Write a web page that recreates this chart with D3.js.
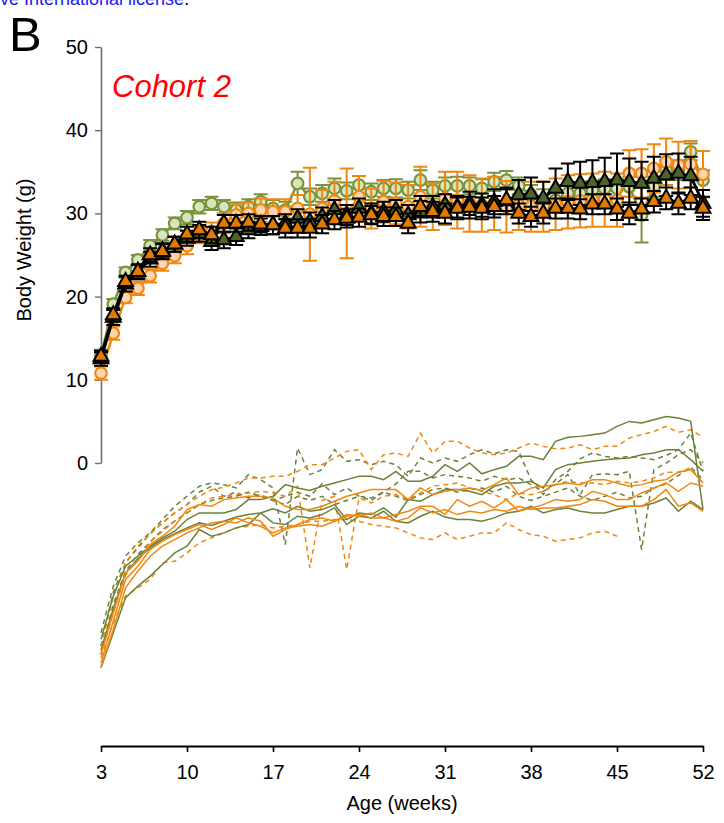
<!DOCTYPE html>
<html>
<head>
<meta charset="utf-8">
<script src="https://cdn.jsdelivr.net/npm/d3@7"></script>
<style>
body{margin:0;background:#fff}
text{font-family:"Liberation Sans",Arial,sans-serif}
</style>
</head>
<body>
<div class="bigvis"></div>
<script>
var weeks = [3,4,5,6,7,8,9,10,11,12,13,14,15,16,17,18,19,20,21,22,23,24,25,26,27,
  28,29,30,31,32,33,34,35,36,37,38,39,40,41,42,43,44,45,46,47,48,49,50,51,52]
var xTicks = [3,10,17,24,31,38,45,52]
var yTicks = [0,10,20,30,40,50]

// group means +- sem (g)
var greenCircleMean = [12.9,19.1,22.9,24.4,26.1,27.4,28.8,29.5,30.8,31.2,
  30.8,30.4,30.8,31.4,30.6,30.4,33.6,32.0,32.4,33.0,
  32.7,33.4,32.6,33.0,33.0,32.8,34.0,32.8,33.3,33.3,
  33.3,33.0,33.8,34.0,33.3,32.2,31.4,31.6,32.4,32.4,
  32.8,33.0,33.0,33.2,29.8,33.2,35.2,35.2,37.4,34.0]
var greenCircleSem = [0.7,0.6,0.6,0.6,0.7,0.7,0.7,0.8,0.8,0.8,
  0.8,0.9,0.9,0.9,1.0,1.0,1.4,1.0,1.0,1.2,
  1.0,1.1,1.0,1.0,1.1,1.0,1.2,1.0,1.0,1.1,
  1.0,1.1,1.1,1.1,1.0,1.2,1.5,1.2,1.2,1.2,
  1.1,1.1,1.1,1.2,3.3,1.2,1.2,1.2,1.0,1.2]

var orangeCircleMean = [10.8,15.6,19.9,21.0,22.5,24.0,24.9,26.1,27.4,27.8,
  28.8,29.8,30.0,30.4,30.2,30.2,30.6,29.9,30.6,31.5,
  30.0,32.0,30.6,31.4,31.2,30.8,32.0,30.8,31.8,31.6,
  31.2,31.0,31.2,30.8,31.0,30.8,30.8,31.1,31.4,31.5,
  31.6,31.7,31.6,34.8,34.8,35.4,36.2,35.8,35.9,34.7]
var orangeCircleSem = [0.8,0.8,0.7,0.8,0.8,0.9,0.9,1.0,1.0,1.1,
  1.2,1.3,1.3,1.4,1.5,1.5,1.6,5.6,2.2,2.3,
  5.4,2.5,2.4,2.5,2.5,2.6,3.6,2.8,3.2,3.4,
  3.4,3.2,3.2,3.1,3.0,3.0,3.0,3.1,3.2,3.2,
  3.2,3.3,3.2,2.8,2.9,2.9,2.8,2.8,2.8,2.8]

var greenTriMean = [12.5,17.5,21.5,23.0,24.5,25.5,26.3,27.0,27.6,26.6,
  26.8,27.2,28.0,28.4,28.6,28.8,29.4,29.0,29.6,30.4,
  29.8,30.6,30.0,30.2,30.4,29.8,30.2,30.8,31.0,30.8,
  31.2,31.0,31.4,31.5,32.2,32.3,31.8,33.0,33.8,33.6,
  33.7,33.8,34.0,33.8,33.6,34.2,34.6,34.8,34.5,31.2]
var greenTriSem = [0.8,0.9,0.9,0.9,0.9,0.9,0.9,0.9,1.0,1.0,
  1.0,1.0,1.0,1.0,1.1,1.1,1.1,1.1,1.1,1.2,
  1.2,1.2,1.2,1.2,1.2,1.2,1.3,1.3,1.3,1.3,
  1.4,1.4,1.5,1.6,1.8,2.0,2.0,2.4,2.2,2.6,
  2.7,2.9,3.2,2.8,2.6,2.6,2.5,2.4,2.3,1.6]

var orangeTriMean = [12.8,17.8,21.8,23.0,25.0,25.4,26.3,27.5,28.0,27.4,
  28.8,28.8,28.9,28.7,28.6,28.2,28.2,28.2,28.7,29.2,
  29.4,29.5,29.8,29.6,29.6,28.8,30.8,30.2,30.0,30.6,
  30.7,30.6,30.8,31.6,30.0,29.6,30.0,30.6,30.6,30.5,
  31.1,31.1,30.5,30.0,30.5,31.4,31.8,31.2,31.8,30.6]
var orangeTriSem = [0.7,0.8,0.7,0.8,0.8,0.9,0.9,0.9,1.0,1.0,
  1.0,1.0,1.0,1.0,1.1,1.1,1.1,1.1,1.1,1.1,
  1.1,1.1,1.1,1.1,1.1,1.2,1.3,1.2,1.2,1.3,
  1.3,1.3,1.3,1.3,1.2,1.2,1.2,1.2,1.2,1.2,
  1.2,1.2,1.3,1.3,1.3,1.3,1.3,1.3,1.3,1.4]

// individual mice (g), drawn shifted down by traceOffset
var traceOffset = 35
var greenDashed = [
  [14.6,20.2,23.8,25.4,26.6,28.2,29.8,31.0,32.2,32.6,
   32.4,32.0,33.6,33.0,32.0,25.2,36.8,33.6,34.2,36.6,
   35.2,35.4,34.8,35.2,34.8,33.4,35.6,35.0,35.6,35.2,
   36.0,36.6,36.1,36.6,36.4,33.0,31.2,33.0,34.0,35.5,
   36.2,35.8,35.6,35.8,35.6,35.4,35.9,36.6,38.6,34.0],
  [13.0,19.5,23.0,24.8,26.5,27.8,29.0,30.0,31.5,32.2,
   31.0,31.5,30.8,31.2,30.5,31.0,31.5,31.0,32.5,31.2,
   32.0,31.0,30.5,31.5,32.5,34.0,34.0,33.2,33.6,33.4,
   33.2,32.8,33.4,33.0,33.2,32.4,31.6,32.5,33.6,31.2,
   33.6,33.7,33.6,34.0,24.6,34.2,35.0,36.0,36.6,35.0],
  [12.0,18.0,22.0,24.0,25.5,27.0,28.0,29.0,30.0,30.5,
   30.8,31.0,31.5,31.0,30.5,30.0,31.0,30.5,31.0,30.0,
   30.5,31.0,30.8,31.5,31.0,30.5,31.2,31.8,32.0,31.5,
   31.8,32.0,31.5,32.2,31.0,30.5,31.0,31.5,32.0,31.0,
   30.5,31.0,31.5,30.8,31.0,32.0,32.5,33.5,34.5,33.0]
]
var greenSolid = [
  [13.8,19.0,22.6,23.8,25.0,26.0,26.8,28.2,29.0,29.0,
   29.0,29.4,30.6,30.6,31.0,32.4,32.0,31.7,32.2,32.6,
   33.0,33.4,33.4,33.0,34.0,32.8,32.8,33.4,34.8,34.0,
   35.0,33.7,34.2,34.6,35.8,35.8,35.4,37.6,38.1,38.2,
   38.4,38.6,39.4,40.0,39.8,40.2,40.6,40.4,40.0,29.4],
  [12.5,17.5,21.8,23.5,24.8,25.8,26.5,27.2,27.8,27.5,
   28.0,28.5,28.8,29.0,29.5,29.0,29.8,29.2,29.4,30.0,
   28.2,29.0,28.8,29.6,28.5,30.6,30.4,31.2,31.8,31.8,
   31.6,31.2,32.2,32.6,32.6,32.8,32.0,34.2,34.8,35.0,
   35.2,35.4,35.5,35.6,36.0,36.2,36.6,36.6,35.4,34.0],
  [10.4,14.6,18.8,20.2,21.4,22.8,24.2,25.0,27.0,26.2,
   26.6,27.2,27.6,29.0,27.8,27.6,28.6,28.4,28.8,29.6,
   27.6,28.6,28.4,29.2,28.0,27.8,28.6,29.2,28.5,28.2,
   28.2,28.0,28.4,29.0,29.2,29.8,29.0,29.4,29.6,29.2,
   29.0,29.0,29.4,29.8,29.8,30.2,30.8,29.2,30.4,29.4]
]
var orangeDashed = [
  [13.0,19.0,23.0,25.0,26.5,27.8,29.0,30.0,31.0,31.8,
   32.1,32.6,33.2,33.2,33.4,33.4,34.0,34.8,34.8,35.6,
   36.4,36.6,34.2,36.0,36.2,35.8,38.6,36.2,37.6,37.6,
   36.8,36.2,36.0,36.2,36.8,37.4,37.0,36.7,36.8,37.2,
   36.6,37.0,37.0,38.0,38.4,38.8,39.4,38.7,39.0,38.1],
  [12.0,17.0,21.5,23.5,25.5,26.8,28.0,29.0,30.0,30.8,
   31.0,31.2,31.4,31.6,31.4,31.0,32.2,22.4,30.5,31.0,
   22.2,30.8,30.2,31.0,31.2,30.6,31.4,32.2,32.4,32.6,
   32.0,31.6,31.2,30.6,31.4,31.2,31.6,32.4,32.8,32.6,
   32.6,32.4,32.8,32.6,32.8,33.2,33.9,33.9,34.4,32.6],
  [11.6,15.8,19.0,20.0,21.0,23.0,23.2,24.2,25.4,26.0,
   26.6,27.2,27.4,27.6,27.2,27.4,27.6,28.0,28.0,28.2,
   28.2,28.0,27.6,27.4,27.2,26.6,26.0,25.8,26.6,25.8,
   26.2,26.6,26.6,27.8,27.0,26.4,26.2,25.6,25.8,26.0,
   26.6,26.8,26.2,null,null,null,null,null,null,null]
]
var orangeSolid = [
  [12.0,17.0,21.8,23.2,25.2,26.2,27.4,29.4,30.0,29.8,
   30.6,30.8,31.0,31.0,30.8,29.8,29.4,29.4,29.8,30.4,
   31.0,31.4,31.8,31.8,31.8,30.6,32.0,31.2,31.6,31.8,
   32.0,31.7,32.4,33.2,31.2,32.0,32.2,32.4,32.6,32.4,
   33.0,33.0,32.6,32.2,32.4,32.8,33.0,33.9,34.2,32.6],
  [11.0,16.0,21.0,22.6,24.6,25.6,26.4,27.0,27.6,27.0,
   27.6,28.4,27.8,27.4,26.6,27.2,27.4,27.6,27.4,28.0,
   28.6,28.8,28.4,28.4,28.8,29.2,29.8,29.8,28.8,30.6,
   29.8,30.4,29.6,30.6,29.2,29.6,30.0,30.6,30.4,30.6,
   31.6,31.2,30.6,30.6,31.4,32.0,32.6,31.6,32.6,32.2],
  [10.5,15.0,20.0,22.0,23.8,25.0,25.8,26.6,27.2,27.8,
   28.0,27.8,28.4,28.0,26.2,27.0,27.6,28.2,28.4,28.0,
   28.8,28.6,29.0,28.4,28.0,28.4,29.6,29.0,29.4,28.8,
   29.2,29.0,29.4,29.2,29.8,29.4,29.6,29.6,29.8,30.0,
   30.6,30.4,29.8,29.8,29.8,30.6,31.8,29.8,30.2,29.2]
]

var green = "#6b8038"
var orange = "#f0870f"

var width = 724
var height = 823

var svg = d3.select(".bigvis").append("svg")
    .attr("width", width)
    .attr("height", height)

var x = d3.scaleLinear().domain([3, 52]).range([101, 703])
var y = d3.scaleLinear().domain([0, 50]).range([463, 47])

// header remnant of the page above (cut by the frame, as in the source)
var head = svg.append("text").attr("x", -4).attr("y", 5).attr("font-size", 18)
head.append("tspan").attr("fill", "#1a1aee").text("ive International license")
head.append("tspan").attr("fill", "#000").text(".")

svg.append("text").attr("x", 9).attr("y", 51)
    .attr("font-size", 49).text("B")

svg.append("text").attr("x", 112).attr("y", 97)
    .attr("font-size", 31).attr("font-style", "italic")
    .attr("fill", "#ff0000").text("Cohort 2")

// axes
var yAxis = svg.append("g")
    .attr("transform", "translate(101,0)")
    .call(d3.axisLeft(y).tickValues(yTicks).tickSize(6).tickSizeOuter(0).tickPadding(7))
yAxis.select(".domain").attr("stroke", "#6e6e6e").attr("stroke-width", 1.6)
yAxis.selectAll(".tick line").attr("stroke", "#6e6e6e").attr("stroke-width", 1.4)
yAxis.selectAll(".tick text").attr("font-size", 20).attr("fill", "#000")
    .attr("font-family", "Liberation Sans, Arial, sans-serif")

var xAxis = svg.append("g")
    .attr("transform", "translate(0,746)")
    .call(d3.axisBottom(x).tickValues(xTicks).tickSize(6).tickSizeOuter(0).tickPadding(13))
xAxis.select(".domain").attr("stroke", "#000").attr("stroke-width", 2)
xAxis.selectAll(".tick line").attr("stroke", "#000").attr("stroke-width", 1.6)
xAxis.selectAll(".tick text").attr("font-size", 20).attr("fill", "#000")
    .attr("font-family", "Liberation Sans, Arial, sans-serif")

svg.append("text").attr("x", 402).attr("y", 810)
    .attr("text-anchor", "middle").attr("font-size", 20).text("Age (weeks)")

svg.append("text").attr("transform", "translate(31,250) rotate(-90)")
    .attr("text-anchor", "middle").attr("font-size", 20).text("Body Weight (g)")

// individual traces
var traceLine = d3.line()
    .defined(function(d){ return d != null })
    .x(function(d, i){ return x(weeks[i]) })
    .y(function(d){ return y(d - traceOffset) })

function drawTraces(list, color, dash){
  svg.append("g").selectAll("path")
      .data(list)
    .enter().append("path")
      .attr("d", traceLine)
      .attr("fill", "none")
      .attr("stroke", color)
      .attr("stroke-width", 1.5)
      .attr("stroke-dasharray", dash)
}
drawTraces(greenDashed, green, "5,4")
drawTraces(orangeDashed, orange, "5,4")
drawTraces(greenSolid, green, null)
drawTraces(orangeSolid, orange, null)

// mean series
var meanLine = d3.line()
    .x(function(d, i){ return x(weeks[i]) })
    .y(function(d){ return y(d) })

function drawSeries(mean, sem, opts){
  var g = svg.append("g")
  var pts = mean.map(function(m, i){ return {w: weeks[i], m: m, s: sem[i]} })

  var bars = g.append("g").attr("stroke", opts.bar).attr("stroke-width", 2).attr("fill", "none")
  bars.selectAll("path").data(pts).enter().append("path")
      .attr("d", function(d){
        var cx = x(d.w), hi = y(d.m + d.s), lo = y(d.m - d.s)
        return "M" + cx + "," + hi + "V" + lo +
          "M" + (cx - 7) + "," + hi + "H" + (cx + 7) +
          "M" + (cx - 7) + "," + lo + "H" + (cx + 7)
      })

  g.append("path").datum(mean)
      .attr("d", meanLine)
      .attr("fill", "none")
      .attr("stroke", opts.line)
      .attr("stroke-width", opts.lineWidth)

  if(opts.shape == "circle"){
    g.selectAll("circle").data(pts).enter().append("circle")
        .attr("cx", function(d){ return x(d.w) })
        .attr("cy", function(d){ return y(d.m) })
        .attr("r", 5.8)
        .attr("fill", opts.fill)
        .attr("stroke", opts.stroke)
        .attr("stroke-width", 2.2)
  }else{
    g.selectAll(".tri").data(pts).enter().append("path")
        .attr("class", "tri")
        .attr("transform", function(d){ return "translate(" + x(d.w) + "," + y(d.m) + ")" })
        .attr("d", d3.symbol().type(d3.symbolTriangle).size(95))
        .attr("fill", opts.fill)
        .attr("stroke", opts.stroke)
        .attr("stroke-width", 2)
  }
}

drawSeries(greenCircleMean, greenCircleSem, {shape: "circle", bar: "#77933c", line: "#77933c", lineWidth: 2.5, fill: "#d8e4bc", stroke: "#77933c"})
drawSeries(orangeCircleMean, orangeCircleSem, {shape: "circle", bar: orange, line: orange, lineWidth: 2.5, fill: "#fcd5b4", stroke: orange})
drawSeries(greenTriMean, greenTriSem, {shape: "tri", bar: "#000", line: "#000", lineWidth: 3, fill: "#4f6228", stroke: "#000"})
drawSeries(orangeTriMean, orangeTriSem, {shape: "tri", bar: "#000", line: "#000", lineWidth: 3, fill: "#e27b00", stroke: "#000"})
</script>
</body>
</html>
